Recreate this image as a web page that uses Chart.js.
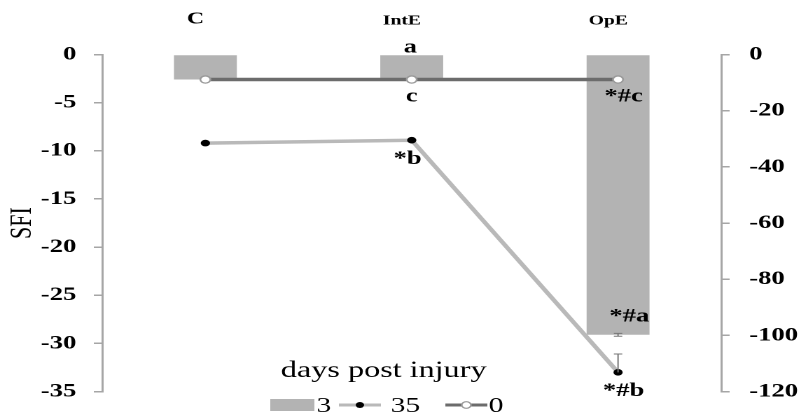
<!DOCTYPE html>
<html>
<head>
<meta charset="utf-8">
<script src="https://cdn.jsdelivr.net/npm/chart.js@4.4.0/dist/chart.umd.min.js"></script>
<style>
  html, body { margin: 0; padding: 0; background: #fff; overflow: hidden; }
  /* the reference picture is stretched sideways, so the chart is drawn narrow and widened */
  #wrap { width: 572px; height: 417px; transform: scaleX(1.4004); transform-origin: 0 0; }
</style>
</head>
<body>
<div id="wrap"><canvas id="chart" width="572" height="417"></canvas></div>
<script>
// datos
const categories = ['C', 'IntE', 'OpE'];
const sfi3 = [-2.6, -2.6, -29.1];   // 3 días (barras)
const sfi35 = [-9.2, -8.9, -33.0];  // 35 días
const sfi0 = [-2.6, -2.6, -2.6];    // 0 días
const err3 = [0, 0, 0.15];
const err35 = [0, 0, 1.9];
const notes3 = ['', 'a', '*#a'];
const notes35 = ['', '*b', '*#b'];
const notes0 = ['', 'c', '*#c'];
const leftRange = [-35, 0, 5];
const rightRange = [-120, 0, 20];
const legendTitle = 'days post injury';
const seriesNames = ['3', '35', '0'];

const SERIF = '"Liberation Serif", "Times New Roman", serif';
const barColor = '#b3b3b3';
const line35Color = '#b9b9b9';
const line0Color = '#6c6c6c';
const axisColor = '#a6a6a6';

const extras = {
  id: 'extras',
  afterDatasetsDraw(chart) {
    const ctx = chart.ctx;
    const xs = chart.scales.x, ys = chart.scales.y;

    // barras de error
    ctx.save();
    ctx.strokeStyle = '#777';
    ctx.lineWidth = 1;
    function errBar(i, v, e, up, down) {
      if (!e) return;
      const px = xs.getPixelForValue(i);
      const top = ys.getPixelForValue(v + (up ? e : 0));
      const bot = ys.getPixelForValue(v - (down ? e : 0));
      ctx.beginPath();
      ctx.moveTo(px, top); ctx.lineTo(px, bot);
      ctx.moveTo(px - 3, top); ctx.lineTo(px + 3, top);
      if (down) { ctx.moveTo(px - 3, bot); ctx.lineTo(px + 3, bot); }
      ctx.stroke();
    }
    categories.forEach((c, i) => {
      errBar(i, sfi3[i], err3[i], true, true);
      errBar(i, sfi35[i], err35[i], true, false);
    });
    ctx.restore();

    // letras de significancia
    ctx.save();
    ctx.fillStyle = '#000';
    ctx.font = 'bold 19px ' + SERIF;
    ctx.textAlign = 'center';
    ctx.textBaseline = 'middle';
    categories.forEach((c, i) => {
      const px = xs.getPixelForValue(i);
      if (notes0[i]) ctx.fillText(notes0[i], px + (i === 2 ? 4 : 0), ys.getPixelForValue(sfi0[i]) + 17);
      if (notes35[i]) ctx.fillText(notes35[i], px + (i === 2 ? 4 : -3), ys.getPixelForValue(sfi35[i]) + 19);
      if (notes3[i]) {
        if (i === 2) ctx.fillText(notes3[i], px + 8, ys.getPixelForValue(sfi3[i]) - 18);
        else ctx.fillText(notes3[i], px - 1, ys.getPixelForValue(0) - 7);
      }
    });
    ctx.restore();
  },
  afterDraw(chart) {
    // leyenda propia, como en la figura
    const ctx = chart.ctx;
    ctx.save();
    ctx.fillStyle = '#000';
    ctx.textBaseline = 'alphabetic';
    ctx.textAlign = 'center';
    ctx.font = '23px ' + SERIF;
    ctx.fillText(legendTitle, 274, 377);

    ctx.textAlign = 'left';
    ctx.font = '21px ' + SERIF;
    const ly = 405;
    ctx.fillStyle = barColor;
    ctx.fillRect(193, ly - 6, 31.5, 12);
    ctx.fillStyle = '#000';
    ctx.fillText(seriesNames[0], 226, 412);

    ctx.strokeStyle = line35Color;
    ctx.lineWidth = 3;
    ctx.beginPath(); ctx.moveTo(242, ly); ctx.lineTo(272, ly); ctx.stroke();
    ctx.fillStyle = '#000';
    ctx.beginPath(); ctx.arc(257, ly, 3, 0, Math.PI * 2); ctx.fill();
    ctx.fillText(seriesNames[1], 279, 412);

    ctx.strokeStyle = line0Color;
    ctx.beginPath(); ctx.moveTo(318, ly); ctx.lineTo(348, ly); ctx.stroke();
    ctx.fillStyle = '#fff';
    ctx.strokeStyle = '#999';
    ctx.lineWidth = 1.2;
    ctx.beginPath(); ctx.arc(333, ly, 3.3, 0, Math.PI * 2); ctx.fill(); ctx.stroke();
    ctx.fillStyle = '#000';
    ctx.fillText(seriesNames[2], 349, 412);
    ctx.restore();
  }
};

const tickFont = { family: SERIF, size: 19, weight: 'bold' };

new Chart(document.getElementById('chart'), {
  data: {
    labels: categories,
    datasets: [
      {
        type: 'line', label: seriesNames[2], data: sfi0, order: 1,
        borderColor: line0Color, borderWidth: 3.5,
        pointRadius: 3.6, pointBackgroundColor: '#fff', pointBorderColor: '#9a9a9a', pointBorderWidth: 1.3,
        yAxisID: 'y'
      },
      {
        type: 'line', label: seriesNames[1], data: sfi35, order: 2,
        borderColor: line35Color, borderWidth: 3.5,
        pointRadius: 3.3, pointBackgroundColor: '#000', pointBorderColor: '#000', pointBorderWidth: 0,
        yAxisID: 'y'
      },
      {
        type: 'bar', label: seriesNames[0], data: sfi3, order: 3,
        backgroundColor: barColor, borderWidth: 0,
        barPercentage: 0.305, categoryPercentage: 1,
        yAxisID: 'y'
      }
    ]
  },
  options: {
    responsive: false,
    devicePixelRatio: 2,
    animation: false,
    layout: { autoPadding: false, padding: { left: 0, right: 0, top: 0, bottom: 22 } },
    plugins: { legend: { display: false }, tooltip: { enabled: false } },
    scales: {
      x: {
        position: 'top',
        grid: { display: false, drawTicks: false },
        border: { display: false },
        ticks: {
          color: '#000', padding: 25, labelOffset: -7,
          font: (c) => ({ family: SERIF, weight: 'bold', size: c.index === 0 ? 17 : 14 })
        },
        afterFit: (s) => { s.height = 54.5; }
      },
      y: {
        position: 'left',
        min: leftRange[0], max: leftRange[1],
        grid: { drawOnChartArea: false, drawTicks: true, tickLength: 6, color: axisColor, lineWidth: 1.5 },
        border: { color: axisColor, width: 1.5 },
        ticks: { stepSize: leftRange[2], color: '#000', padding: 12.5, font: tickFont },
        title: { display: true, text: 'SFI', color: '#000', font: { family: SERIF, size: 22 }, padding: { top: 3, bottom: 0 } },
        afterFit: (s) => { s.width = 73; }
      },
      y2: {
        position: 'right',
        min: rightRange[0], max: rightRange[1],
        grid: { drawOnChartArea: false, drawTicks: true, tickLength: 6, color: axisColor, lineWidth: 1.5 },
        border: { color: axisColor, width: 1.5 },
        ticks: { stepSize: rightRange[2], color: '#000', padding: 14, font: tickFont },
        afterFit: (s) => { s.width = 57; }
      }
    }
  },
  plugins: [extras]
});
</script>
</body>
</html>
